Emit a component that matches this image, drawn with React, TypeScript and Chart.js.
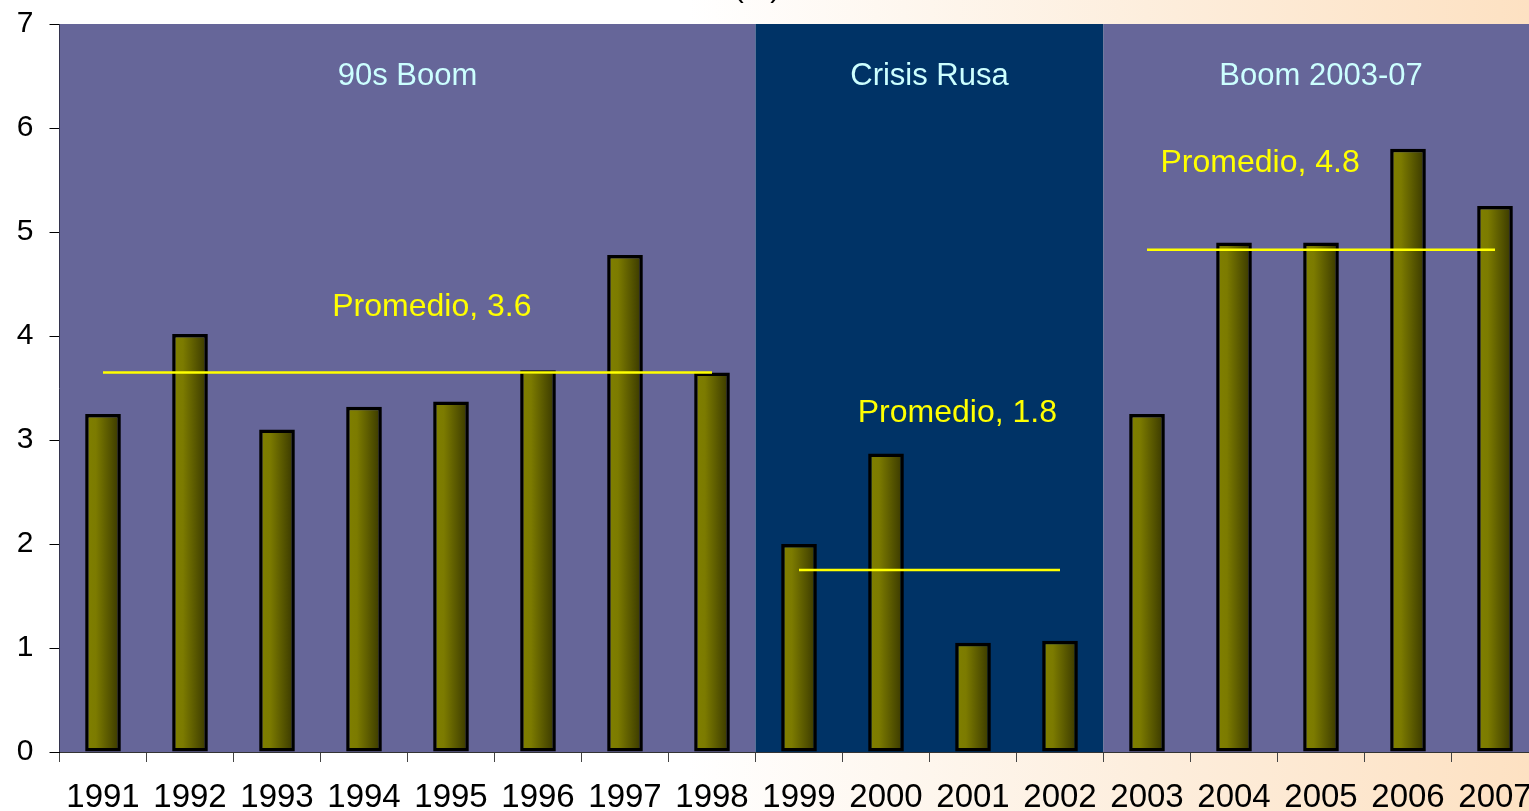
import React, { useEffect, useRef } from "react";
import { Chart, registerables } from "chart.js";

Chart.register(...registerables);

const years = ["1991", "1992", "1993", "1994", "1995", "1996", "1997", "1998", "1999", "2000", "2001", "2002", "2003", "2004", "2005", "2006", "2007"];
const growth = [3.25, 4.02, 3.1, 3.32, 3.37, 3.67, 4.78, 3.65, 2.0, 2.87, 1.05, 1.07, 3.25, 4.9, 4.9, 5.8, 5.25];

const periodNames = ["90s Boom", "Crisis Rusa", "Boom 2003-07"];
const periodStart = [0, 8, 12];
const periodEnd = [7, 11, 16];
const periodColors = ["#666699", "#003366", "#666699"];
const periodAverages = [3.65, 1.75, 4.83];
const averageLabels = ["Promedio, 3.6", "Promedio, 1.8", "Promedio, 4.8"];
// label anchor positions, in category-index / value units
const averageLabelX = [3.78, 9.82, 13.3];
const averageLabelY = [4.28, 3.26, 5.66];
const periodLabelY = 6.5;

const FONT = "'Liberation Sans', Arial, sans-serif";

export default function App() {
  const ref = useRef<HTMLCanvasElement | null>(null);

  useEffect(() => {
    document.body.style.margin = "0";
    const canvas = ref.current!;
    Chart.defaults.font.family = FONT;

    const regionsPlugin = {
      id: "regions",
      beforeDatasetsDraw(chart: any) {
        const { ctx, chartArea, scales } = chart;
        const xs = scales.x;
        const cw = xs.width / years.length;
        ctx.save();
        periodNames.forEach((_, i) => {
          const l = xs.getPixelForValue(periodStart[i]) - cw / 2;
          const r = xs.getPixelForValue(periodEnd[i]) + cw / 2;
          ctx.fillStyle = periodColors[i];
          ctx.fillRect(l, chartArea.top, r - l, chartArea.bottom - chartArea.top);
        });
        ctx.restore();
      },
      afterDatasetsDraw(chart: any) {
        const { ctx, scales } = chart;
        const xs = scales.x;
        const ys = scales.y;
        ctx.save();
        ctx.textAlign = "center";
        ctx.textBaseline = "middle";
        ctx.font = `31px ${FONT}`;
        ctx.fillStyle = "#ccffff";
        periodNames.forEach((name, i) => {
          const cx = (xs.getPixelForValue(periodStart[i]) + xs.getPixelForValue(periodEnd[i])) / 2;
          ctx.fillText(name, cx, ys.getPixelForValue(periodLabelY));
        });
        ctx.font = `32px ${FONT}`;
        ctx.fillStyle = "#ffff00";
        averageLabels.forEach((t, i) => {
          ctx.fillText(t, xs.getPixelForValue(averageLabelX[i]), ys.getPixelForValue(averageLabelY[i]));
        });
        ctx.restore();
      },
      afterDraw(chart: any) {
        const { ctx } = chart;
        ctx.save();
        ctx.font = `30px ${FONT}`;
        ctx.fillStyle = "#000";
        ctx.textAlign = "center";
        ctx.textBaseline = "alphabetic";
        ctx.fillText("(%)", 757, -3);
        ctx.restore();
      },
    };

    const barColor = (c: any) => {
      const chart = c.chart;
      const xs = chart.scales && chart.scales.x;
      if (!xs || c.type !== "data" || !chart.chartArea) return "#808000";
      const cw = xs.width / years.length;
      const cx = xs.getPixelForValue(c.dataIndex);
      const w = cw * 0.41;
      const g = chart.ctx.createLinearGradient(cx - w / 2, 0, cx + w / 2, 0);
      g.addColorStop(0, "#808000");
      g.addColorStop(0.3, "#7c7b00");
      g.addColorStop(1, "#363500");
      return g;
    };

    const lineDatasets = periodAverages.map((avg, p) => ({
      type: "line" as const,
      data: years.map((_, i) => (i >= periodStart[p] && i <= periodEnd[p] ? avg : null)),
      borderColor: "#ffff00",
      borderWidth: 2.5,
      pointRadius: 0,
      fill: false,
      spanGaps: false,
      order: 0,
    }));

    const chart = new Chart(canvas, {
      type: "bar",
      data: {
        labels: years,
        datasets: [
          {
            type: "bar",
            data: growth,
            backgroundColor: barColor,
            borderColor: "#000000",
            borderWidth: 3.5,
            borderSkipped: false,
            barPercentage: 0.41,
            categoryPercentage: 1,
            order: 1,
          } as any,
          ...lineDatasets,
        ],
      },
      options: {
        animation: false,
        responsive: false,
        maintainAspectRatio: false,
        devicePixelRatio: 1,
        layout: { padding: { top: 24, right: 6.5, left: 0, bottom: 0 } },
        plugins: {
          legend: { display: false },
          tooltip: { enabled: false },
          title: { display: false },
        },
        scales: {
          x: {
            offset: true,
            grid: {
              offset: true,
              drawOnChartArea: false,
              drawTicks: true,
              tickLength: 10,
              color: "#444",
            },
            border: { display: true, color: "#333", width: 1 },
            ticks: {
              color: "#000",
              font: { size: 33, family: FONT },
              padding: 16,
              maxRotation: 0,
              autoSkip: false,
            },
            afterFit(scale: any) {
              scale.height = 59;
              scale.paddingLeft = 0;
              scale.paddingRight = 0;
            },
          },
          y: {
            min: 0,
            max: 7,
            grid: {
              drawOnChartArea: false,
              drawTicks: true,
              tickLength: 10,
              color: "#000",
            },
            border: { display: true, color: "#000", width: 1 },
            ticks: {
              stepSize: 1,
              color: "#000",
              font: { size: 30, family: FONT },
              padding: 16,
            },
            afterFit(scale: any) {
              scale.width = 59.5;
              scale.paddingTop = 0;
              scale.paddingBottom = 0;
            },
          },
        },
      },
      plugins: [regionsPlugin],
    });

    return () => chart.destroy();
  }, []);

  return (
    <div
      style={{
        position: "fixed",
        left: 0,
        top: 0,
        width: 1529,
        height: 811,
        overflow: "hidden",
        background: "linear-gradient(to right, #ffffff 0%, #ffffff 45%, #fdeedd 75%, #fde1c2 100%)",
      }}
    >
      <canvas ref={ref} width={1545} height={811} style={{ display: "block", width: 1545, height: 811 }} />
    </div>
  );
}
